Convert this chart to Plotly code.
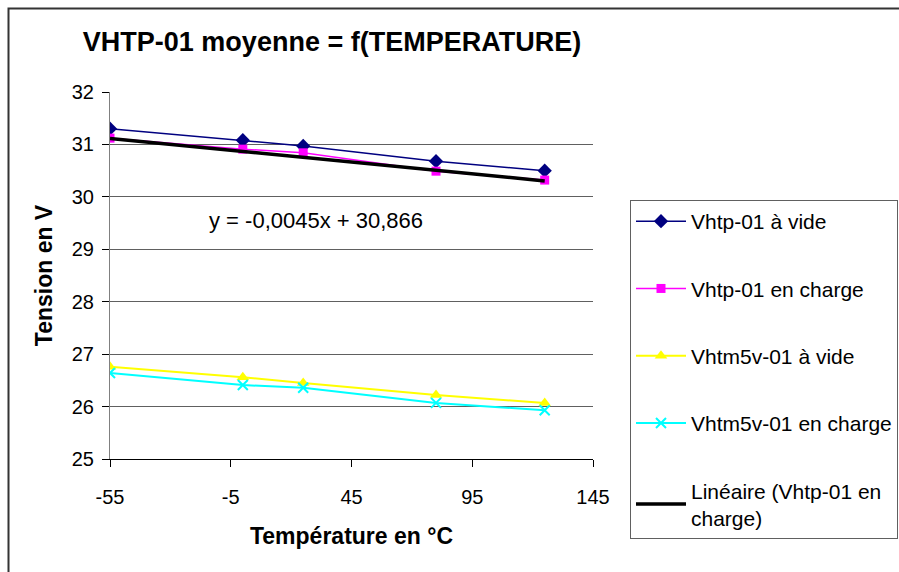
import plotly.graph_objects as go
import numpy as np

# ---- data ----
TEMPS = [-55, 0, 25, 80, 125]
VHTP_VIDE = [31.30, 31.08, 30.97, 30.68, 30.50]
VHTP_CHARGE = [31.12, 30.91, 30.84, 30.49, 30.32]
VHTM_VIDE = [26.76, 26.56, 26.45, 26.22, 26.07]
VHTM_CHARGE = [26.64, 26.41, 26.36, 26.07, 25.93]
TREND_SLOPE = -0.0045
TREND_INTERCEPT = 30.866
X_TICKS = [-55, -5, 45, 95, 145]
Y_TICKS = [25, 26, 27, 28, 29, 30, 31, 32]

FONT = "Arial, Liberation Sans, sans-serif"
W, H = 899, 572
L, R, T, B = 110, 593, 92, 459  # plot-area pixel box

def px_to_paper(px, py):
    return (px - L) / (R - L), (B - py) / (B - T)

trend_x = np.array([min(TEMPS), max(TEMPS)], dtype=float)
trend_y = TREND_SLOPE * trend_x + TREND_INTERCEPT

fig = go.Figure()
fig.add_trace(go.Scatter(x=TEMPS, y=VHTP_VIDE, name="Vhtp-01 à vide", mode="lines+markers",
                         line=dict(color="#000080", width=1.5),
                         marker=dict(symbol="diamond", size=11, color="#000080"),
                         legendgroup="g1"))
fig.add_trace(go.Scatter(x=TEMPS, y=VHTP_CHARGE, name="Vhtp-01 en charge", mode="lines+markers",
                         line=dict(color="#FF00FF", width=1.5),
                         marker=dict(symbol="square", size=9, color="#FF00FF"),
                         legendgroup="g2"))
fig.add_trace(go.Scatter(x=TEMPS, y=VHTM_VIDE, name="Vhtm5v-01 à vide", mode="lines+markers",
                         line=dict(color="#FFFF00", width=2),
                         marker=dict(symbol="triangle-up", size=11, color="#FFFF00"),
                         legendgroup="g3"))
fig.add_trace(go.Scatter(x=TEMPS, y=VHTM_CHARGE, name="Vhtm5v-01 en charge", mode="lines+markers",
                         line=dict(color="#00FFFF", width=2),
                         marker=dict(symbol="x-thin", size=10, color="#00FFFF",
                                     line=dict(color="#00FFFF", width=2)),
                         legendgroup="g4"))
fig.add_trace(go.Scatter(x=trend_x, y=trend_y, name="Linéaire (Vhtp-01 en<br>charge)", mode="lines",
                         line=dict(color="#000000", width=3.5),
                         legendgroup="g5"))

eq_text = "y = %sx + %s" % (("%g" % TREND_SLOPE).replace(".", ","), ("%g" % TREND_INTERCEPT).replace(".", ","))

ex, ey = px_to_paper(316, 220)
fx0, fy0 = px_to_paper(8.5, 585)
fx1, fy1 = px_to_paper(910, 8.5)
lgx, lgy = px_to_paper(630, 200)

fig.update_layout(
    width=W, height=H,
    margin=dict(l=L, r=W - R, t=T, b=H - B, autoexpand=False),
    paper_bgcolor="white", plot_bgcolor="white",
    font=dict(family=FONT, size=20, color="black"),
    title=dict(text="<b>VHTP-01 moyenne = f(TEMPERATURE)</b>",
               font=dict(family=FONT, size=27, color="black"),
               xref="paper", x=px_to_paper(332, 0)[0], xanchor="center",
               yref="container", y=1 - 42 / H, yanchor="middle"),
    xaxis=dict(range=[-55, 145], tickvals=X_TICKS, ticktext=[str(v) for v in X_TICKS],
               showgrid=False, zeroline=False,
               showline=True, linecolor="#000000", linewidth=1,
               ticks="outside", ticklen=7, tickcolor="#000000",
               ticklabelstandoff=13,
               tickfont=dict(family=FONT, size=20),
               title=dict(text="<b>Température en °C</b>", font=dict(family=FONT, size=23), standoff=20)),
    yaxis=dict(range=[25, 32], tickvals=Y_TICKS, ticktext=[str(v) for v in Y_TICKS],
               showgrid=True, gridcolor="#606060", gridwidth=1, zeroline=False,
               showline=True, linecolor="#808080", linewidth=1,
               ticks="outside", ticklen=7, tickcolor="#000000",
               ticklabelstandoff=4,
               tickfont=dict(family=FONT, size=20),
               title=dict(text="<b>Tension en V</b>", font=dict(family=FONT, size=23), standoff=12)),
    legend=dict(x=lgx, y=lgy, xanchor="left", yanchor="top",
                bordercolor="#606060", borderwidth=1, bgcolor="white",
                font=dict(family=FONT, size=21, color="black"),
                tracegroupgap=37, itemwidth=50, traceorder="grouped"),
    showlegend=True,
    annotations=[dict(text=eq_text, xref="paper", yref="paper", x=ex, y=ey,
                      xanchor="center", yanchor="middle", showarrow=False,
                      font=dict(family=FONT, size=22, color="black"))],
    shapes=[dict(type="rect", xref="paper", yref="paper", x0=fx0, y0=fy0, x1=fx1, y1=fy1,
                 line=dict(color="#333333", width=2), fillcolor="rgba(0,0,0,0)", layer="below")],
)

fig.write_html("out.html")
